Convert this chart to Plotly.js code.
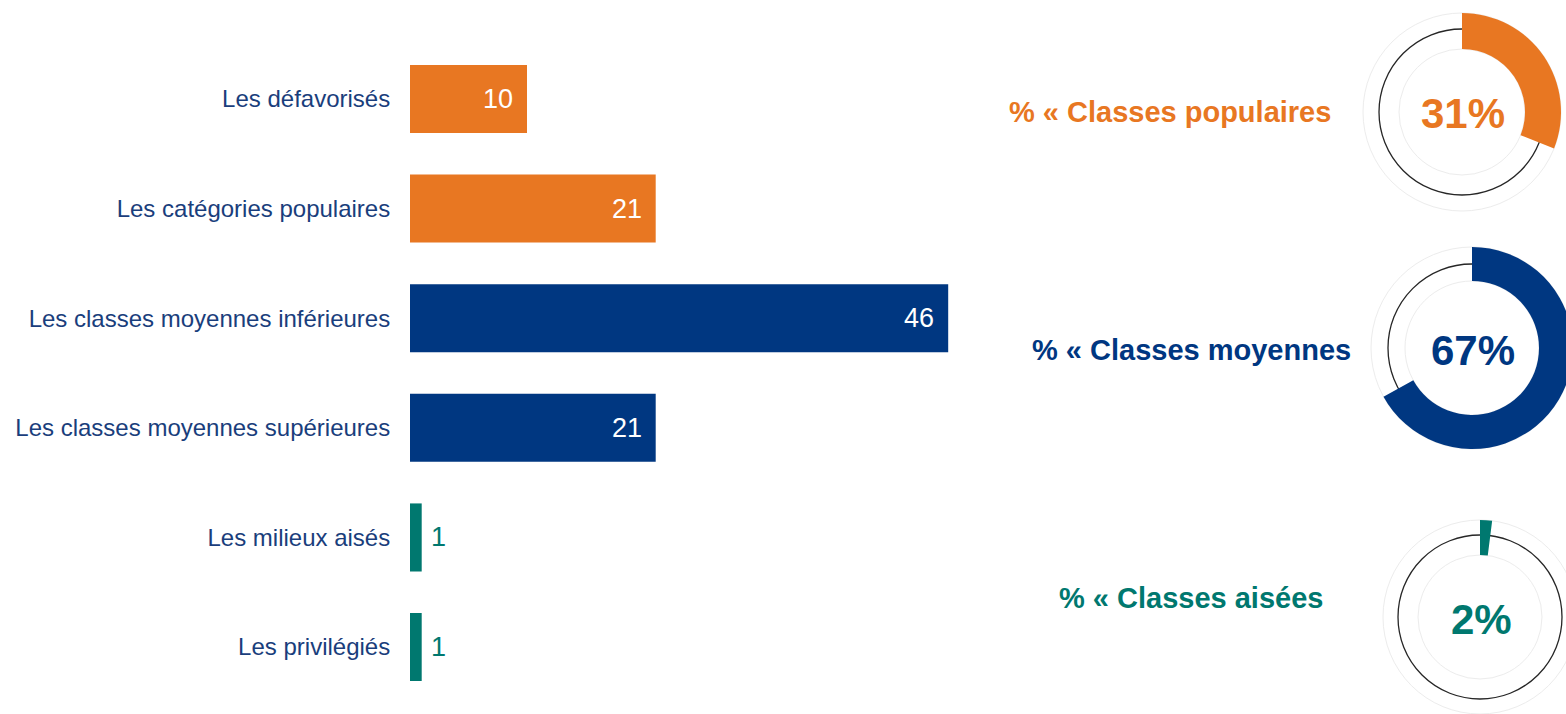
<!DOCTYPE html>
<html>
<head>
<meta charset="utf-8">
<script src="https://cdn.plot.ly/plotly-3.0.1.min.js"></script>
<style>
html, body { margin: 0; padding: 0; overflow: hidden; background: #ffffff; }
#chart { width: 1580px; height: 714px; }
</style>
</head>
<body>
<div id="chart"></div>
<script>
// ---- Data ----
const categories = [
  "Les défavorisés",
  "Les catégories populaires",
  "Les classes moyennes inférieures",
  "Les classes moyennes supérieures",
  "Les milieux aisés",
  "Les privilégiés"
];
const values = [10, 21, 46, 21, 1, 1];
const groupOfCategory = [0, 0, 1, 1, 2, 2];

const groupTitles = ["% « Classes populaires", "% « Classes moyennes", "% « Classes aisées"];
const groupShares = [31, 67, 2];
const groupColors = ["#E87722", "#003781", "#00786F"];

// ---- Layout helpers (pixel geometry) ----
const W = 1580, H = 714;
const px = v => v / W;
const py = v => 1 - v / H;
const FONT = "Liberation Sans, Arial, sans-serif";

const barColors = groupOfCategory.map(g => groupColors[g]);

const traces = [];
traces.push({
  type: "bar",
  orientation: "h",
  y: categories,
  x: values,
  marker: { color: barColors, line: { width: 0 } },
  hoverinfo: "none",
  xaxis: "x", yaxis: "y"
});

const shapes = [];
const annotations = [];

// value labels on bars (inside at the end when the bar is wide enough, else outside)
values.forEach((v, i) => {
  const inside = v >= 5;
  annotations.push({
    xref: "x", yref: "y", x: v, y: categories[i],
    text: String(v), showarrow: false,
    xanchor: inside ? "right" : "left",
    xshift: inside ? -12 : 7,
    yanchor: "middle",
    font: { size: 27, color: inside ? "#ffffff" : barColors[i], family: FONT }
  });
});

// donut geometry: [cx, cy, outer r, inner r, mid-line r]
const donutGeom = [
  [1462, 112, 99, 63, 83],
  [1472, 348, 101, 67, 84],
  [1480, 617, 97, 62, 82]
];
const titlePos = [[1170, 112], [1191, 350], [1191, 598]];

groupShares.forEach((share, i) => {
  const [cx, cy, ro, ri, rm] = donutGeom[i];
  traces.push({
    type: "pie",
    values: [share, 100 - share],
    marker: { colors: [groupColors[i], "rgba(0,0,0,0)"], line: { width: 0 } },
    hole: ri / ro,
    sort: false,
    direction: "clockwise",
    rotation: 0,
    textinfo: "none",
    hoverinfo: "none",
    showlegend: false,
    domain: { x: [px(cx - ro), px(cx + ro)], y: [py(cy + ro), py(cy - ro)] }
  });
  // faint outer and inner circles
  [ro, ri].forEach(r => shapes.push({
    type: "circle", xref: "paper", yref: "paper", layer: "below",
    x0: px(cx - r), x1: px(cx + r), y0: py(cy + r), y1: py(cy - r),
    line: { color: "#ececec", width: 1 }
  }));
  // thin dark circle in the middle of the ring
  shapes.push({
    type: "circle", xref: "paper", yref: "paper", layer: "below",
    x0: px(cx - rm), x1: px(cx + rm), y0: py(cy + rm), y1: py(cy - rm),
    line: { color: "#262626", width: 1.3 }
  });
  annotations.push({
    xref: "paper", yref: "paper", x: px(cx + 1), y: py(cy + 2),
    text: "<b>" + share + "%</b>", showarrow: false,
    xanchor: "center", yanchor: "middle",
    font: { size: 42, color: groupColors[i], family: FONT }
  });
  annotations.push({
    xref: "paper", yref: "paper", x: px(titlePos[i][0]), y: py(titlePos[i][1]),
    text: "<b>" + groupTitles[i] + "</b>", showarrow: false,
    xanchor: "center", yanchor: "middle",
    font: { size: 29, color: groupColors[i], family: FONT }
  });
});

const layout = {
  width: W, height: H,
  margin: { l: 0, r: 0, t: 0, b: 0 },
  paper_bgcolor: "#ffffff",
  plot_bgcolor: "rgba(0,0,0,0)",
  showlegend: false,
  bargap: 0.38,
  xaxis: {
    domain: [px(410), px(995)],
    range: [0, 50],
    visible: false,
    fixedrange: true
  },
  yaxis: {
    domain: [py(701.8), py(44.2)],
    autorange: "reversed",
    showgrid: false, zeroline: false, showline: false,
    ticks: "outside", ticklen: 14, tickcolor: "rgba(0,0,0,0)",
    tickfont: { size: 24, color: "#1A3E7C", family: FONT },
    fixedrange: true
  },
  shapes: shapes,
  annotations: annotations,
  font: { family: FONT }
};

Plotly.newPlot("chart", traces, layout, { displayModeBar: false, staticPlot: true });
</script>
</body>
</html>
